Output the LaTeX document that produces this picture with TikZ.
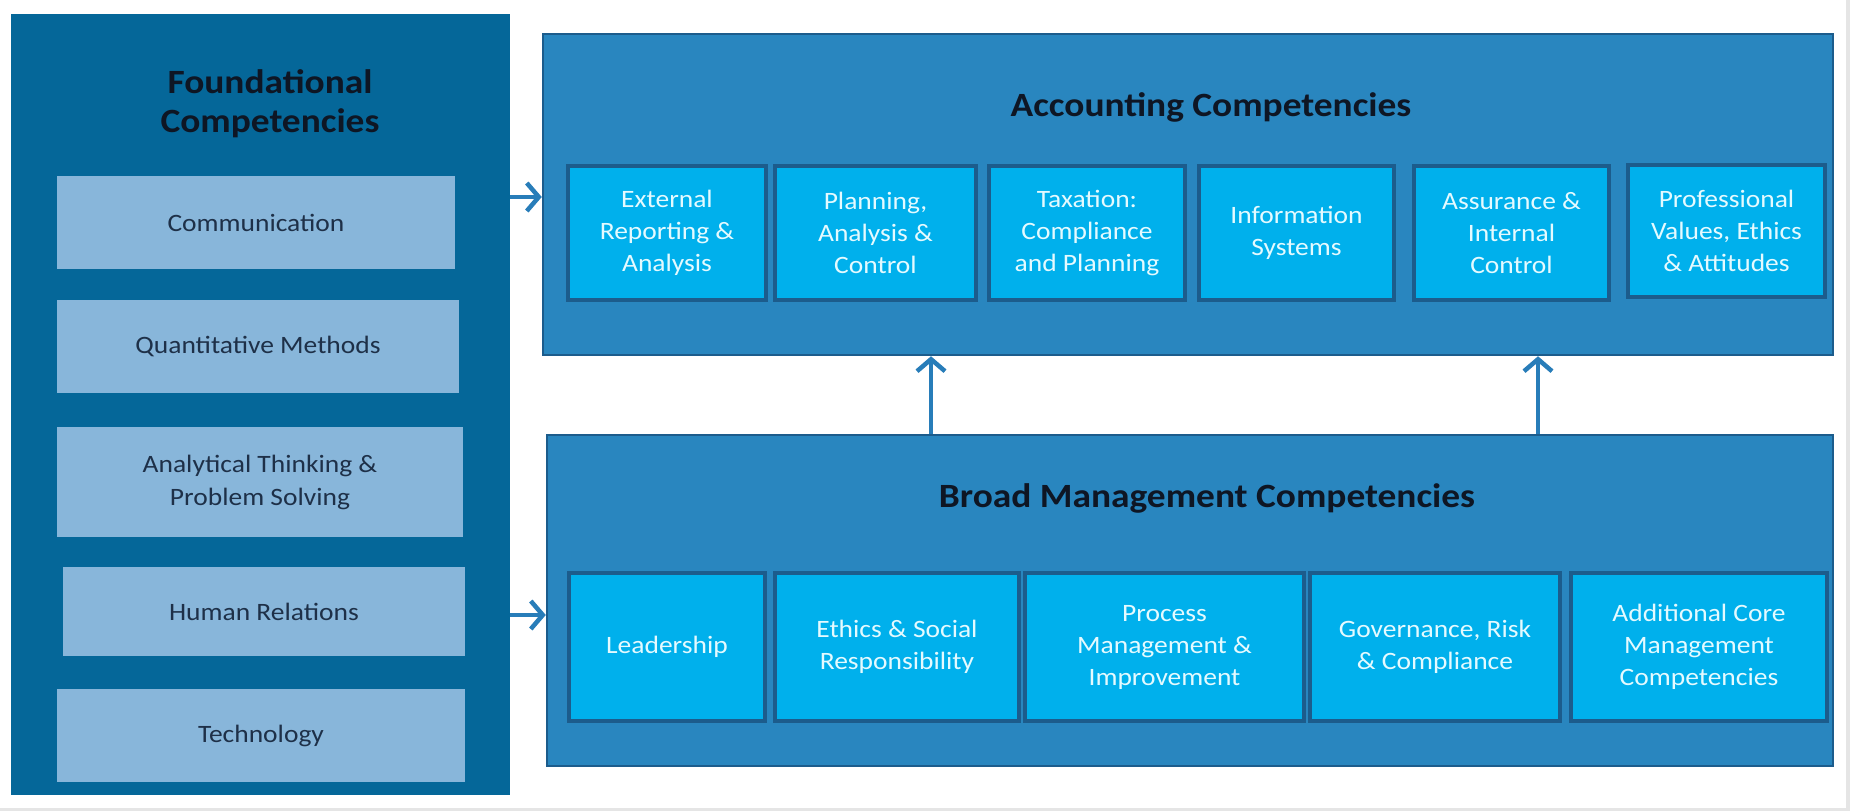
\documentclass[tikz,border=0pt]{standalone}
\usepackage{fontspec}
\setmainfont{Carlito}[FakeStretch=1.1]
\usetikzlibrary{arrows.meta}
\definecolor{fpanel}{RGB}{5,103,153}
\definecolor{fbox}{RGB}{136,182,218}
\definecolor{ftext}{RGB}{30,48,72}
\definecolor{cpanel}{RGB}{41,134,191}
\definecolor{cborder}{RGB}{28,92,140}
\definecolor{subfill}{RGB}{0,176,236}
\definecolor{subtext}{RGB}{228,250,255}
\definecolor{titletext}{RGB}{14,22,36}
\definecolor{arrowc}{RGB}{40,125,185}
\begin{document}
\begin{tikzpicture}[x=1pt,y=-1pt,
  fpanelbox/.style={rectangle,fill=fpanel,inner sep=0pt},
  cpanelbox/.style={rectangle,fill=cpanel,draw=cborder,line width=2.5pt,inner sep=0pt},
  leftbox/.style={rectangle,fill=fbox,inner sep=0pt,text=ftext,font=\fontsize{25}{33}\selectfont,align=center},
  subbox/.style={rectangle,fill=subfill,draw=cborder,line width=3.5pt,inner sep=0pt,text=subtext,font=\fontsize{25}{32}\selectfont,align=center},
  titlelabel/.style={text=titletext,font=\fontsize{34}{39}\selectfont\bfseries,align=center,inner sep=0pt},
  arr/.style={draw=arrowc,line width=4.5pt,-{Straight Barb[length=12pt,width=28pt,line width=4.5pt]}}
]
\useasboundingbox (0,0) rectangle (1850,811);
\fill[white] (0,0) rectangle (1850,811);
\fill[gray!20] (0,808) rectangle (1850,811);
\fill[gray!20] (1846,0) rectangle (1850,811);

% Foundational panel
\node[fpanelbox,minimum width=499,minimum height=781] (found) at (260.5,404.5) {};
\node[titlelabel] (ftitle) at (270,104) {Foundational\\Competencies};
\node[leftbox,minimum width=398,minimum height=93] (comm) at (256,222.5) {Communication};
\node[leftbox,minimum width=402,minimum height=93] (quant) at (258,346.5) {Quantitative Methods};
\node[leftbox,minimum width=406,minimum height=110] (anal) at (260,482) {Analytical Thinking \&\\Problem Solving};
\node[leftbox,minimum width=402,minimum height=89] (human) at (264,611.5) {Human Relations};
\node[leftbox,minimum width=408,minimum height=93] (tech) at (261,735.5) {Technology};

% Accounting panel
\node[cpanelbox,minimum width=1290,minimum height=321] (acct) at (1188,194.5) {};
\node[titlelabel] (atitle) at (1211,107) {Accounting Competencies};
\node[subbox,minimum width=198,minimum height=134] (ext) at (667,233) {External\\Reporting \&\\Analysis};
\node[subbox,minimum width=201,minimum height=134] (plan) at (875.5,233) {Planning,\\Analysis \&\\Control};
\node[subbox,minimum width=196,minimum height=134] (tax) at (1087,233) {Taxation:\\Compliance\\and Planning};
\node[subbox,minimum width=195,minimum height=134] (info) at (1296.5,233) {Information\\Systems};
\node[subbox,minimum width=195,minimum height=134] (assur) at (1511.5,233) {Assurance \&\\Internal\\Control};
\node[subbox,minimum width=197,minimum height=132] (prof) at (1726.5,231) {Professional\\Values, Ethics\\\& Attitudes};

% Broad management panel
\node[cpanelbox,minimum width=1286,minimum height=331] (broad) at (1190,600.5) {};
\node[titlelabel] (btitle) at (1207,498) {Broad Management Competencies};
\node[subbox,minimum width=196,minimum height=148] (lead) at (667,647) {Leadership};
\node[subbox,minimum width=244,minimum height=148] (eth) at (897,647) {Ethics \& Social\\Responsibility};
\node[subbox,minimum width=279,minimum height=148] (proc) at (1164.5,647) {Process\\Management \&\\Improvement};
\node[subbox,minimum width=250,minimum height=148] (gov) at (1435,647) {Governance, Risk\\\& Compliance};
\node[subbox,minimum width=256,minimum height=148] (add) at (1699,647) {Additional Core\\Management\\Competencies};

% Connectors
\coordinate (ya) at (0,197);
\coordinate (yb) at (0,615);
\coordinate (xa) at (931,0);
\coordinate (xb) at (1538,0);
\draw[arr] (found.east |- ya) -- (acct.west |- ya);
\draw[arr] (found.east |- yb) -- (broad.west |- yb);
\draw[arr] (broad.north -| xa) -- (acct.south -| xa);
\draw[arr] (broad.north -| xb) -- (acct.south -| xb);
\end{tikzpicture}
\end{document}
